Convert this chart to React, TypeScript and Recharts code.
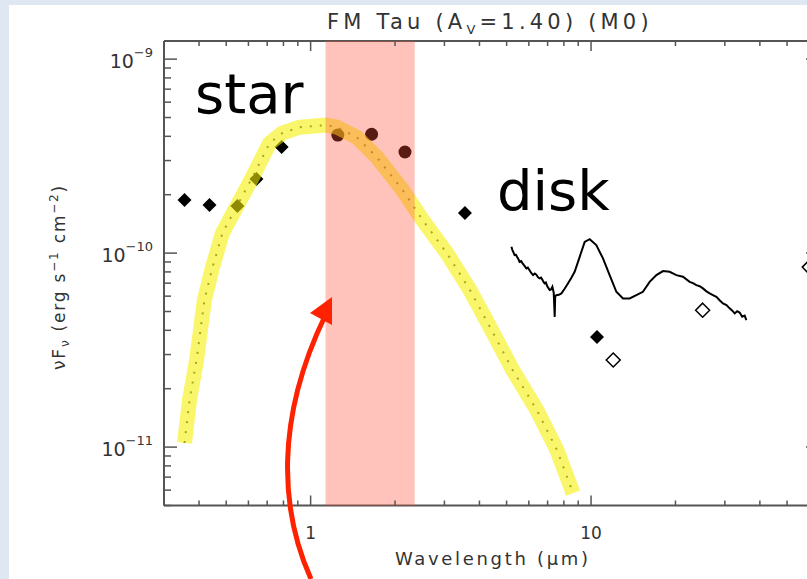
import React from "react";
import {
  ComposedChart,
  Line,
  Scatter,
  XAxis,
  YAxis,
  ReferenceArea,
} from "recharts";

// photosphere model (wavelength in micron, nuFnu in erg/s/cm^2)
const MODEL_WL = [0.355, 0.37, 0.392, 0.418, 0.447, 0.485, 0.544, 0.621, 0.714, 0.794, 0.914, 1.14, 1.24, 1.46, 1.72, 2.13, 2.51, 3.06, 3.7, 4.36, 5.26, 6.41, 7.56, 8.63];
const MODEL_FLUX = [1.05e-11, 1.75e-11, 2.81e-11, 5.73e-11, 8.47e-11, 1.27e-10, 1.73e-10, 2.47e-10, 3.69e-10, 4.16e-10, 4.46e-10, 4.57e-10, 4.46e-10, 3.96e-10, 3.13e-10, 2.11e-10, 1.48e-10, 1.0e-10, 6.45e-11, 4.16e-11, 2.49e-11, 1.55e-11, 9.66e-12, 5.79e-12];

// optical + IRAC + ground mid-IR photometry
const PHOT_WL = [0.355, 0.436, 0.548, 0.641, 0.788, 3.55, 10.5];
const PHOT_FLUX = [1.88e-10, 1.77e-10, 1.75e-10, 2.41e-10, 3.52e-10, 1.61e-10, 3.69e-11];

// 2MASS J, H, K
const NIR_WL = [1.25, 1.65, 2.17];
const NIR_FLUX = [4.06e-10, 4.1e-10, 3.32e-10];

// IRAS 12, 25, 60
const IRAS_WL = [12, 25, 60];
const IRAS_FLUX = [2.81e-11, 5.08e-11, 8.47e-11];

// IRS spectrum
const SPEC_WL = [5.2, 5.24, 5.27, 5.31, 5.34, 5.4, 5.45, 5.5, 5.56, 5.63, 5.7, 5.79, 5.88, 5.95, 6.02, 6.12, 6.21, 6.3, 6.38, 6.47, 6.56, 6.63, 6.7, 6.77, 6.83, 6.9, 6.98, 7.05, 7.12, 7.2, 7.28, 7.36, 7.42, 7.45, 7.52, 7.68, 7.84, 8.05, 8.27, 8.5, 8.74, 9.11, 9.49, 9.89, 10.44, 11.03, 11.65, 12.31, 13.0, 13.73, 14.51, 15.31, 16.18, 17.1, 18.05, 19.07, 20.15, 21.27, 22.47, 23.1, 23.74, 24.4, 25.06, 25.8, 26.49, 27.2, 27.99, 28.8, 29.54, 30.4, 31.21, 31.9, 32.52, 33.2, 33.88, 34.6, 35.3, 35.8];
const SPEC_FLUX = [1.078e-10, 1.04e-10, 1.02e-10, 9.95e-11, 9.77e-11, 9.8e-11, 9.55e-11, 9.35e-11, 9.02e-11, 9.1e-11, 8.85e-11, 8.6e-11, 8.34e-11, 8.42e-11, 8.2e-11, 7.9e-11, 7.7e-11, 7.85e-11, 7.75e-11, 7.5e-11, 7.41e-11, 7.48e-11, 7.3e-11, 7.1e-11, 6.98e-11, 7.05e-11, 6.75e-11, 6.6e-11, 6.45e-11, 6.5e-11, 6.71e-11, 6.25e-11, 4.69e-11, 6.0e-11, 6.07e-11, 6.1e-11, 6.2e-11, 6.55e-11, 6.98e-11, 7.45e-11, 8.01e-11, 9.57e-11, 1.143e-10, 1.18e-10, 1.1e-10, 9.39e-11, 7.7e-11, 6.32e-11, 5.84e-11, 5.84e-11, 6.07e-11, 6.32e-11, 7.11e-11, 7.7e-11, 8.08e-11, 8.01e-11, 7.7e-11, 7.55e-11, 7.11e-11, 7.0e-11, 6.84e-11, 6.75e-11, 6.58e-11, 6.35e-11, 6.2e-11, 6.08e-11, 5.95e-11, 5.7e-11, 5.5e-11, 5.4e-11, 5.19e-11, 5.05e-11, 4.89e-11, 5.02e-11, 4.94e-11, 4.7e-11, 4.76e-11, 4.51e-11];

// shaded J-K window
const BAND = [1.13, 2.35];

const X_DOMAIN = [0.3, 65];
const Y_DOMAIN = [5e-12, 1.24e-9];
const X_TICKS = [0.3, 0.4, 0.5, 0.6, 0.7, 0.8, 0.9, 1, 2, 3, 4, 5, 6, 7, 8, 9, 10, 20, 30, 40, 50, 60];
const Y_TICKS = [
  5e-12, 6e-12, 7e-12, 8e-12, 9e-12,
  1e-11, 2e-11, 3e-11, 4e-11, 5e-11, 6e-11, 7e-11, 8e-11, 9e-11,
  1e-10, 2e-10, 3e-10, 4e-10, 5e-10, 6e-10, 7e-10, 8e-10, 9e-10,
  1e-9,
];

const zip = (xs: number[], ys: number[]) => xs.map((x, i) => ({ x, y: ys[i] }));

const AXIS = "#555";
const TEXT = "#333";
const FONT = "DejaVu Sans, Verdana, sans-serif";

const isDecade = (v: number) => Math.abs(Math.log10(v) - Math.round(Math.log10(v))) < 1e-6;

function XTick(props: any) {
  const { x, y, payload, side } = props;
  const v = payload.value;
  const major = isDecade(v);
  const len = major ? 10 : 5;
  const dir = side === "top" ? 1 : -1;
  return (
    <g>
      <line x1={x} y1={y} x2={x} y2={y + dir * len} stroke={AXIS} strokeWidth={1.5} />
      {side === "bottom" && major && (
        <text x={x} y={y + 33} textAnchor="middle" fontSize={17} fill={TEXT} fontFamily={FONT}>
          {v}
        </text>
      )}
    </g>
  );
}

function YTick(props: any) {
  const { x, y, payload, side } = props;
  const v = payload.value;
  const major = isDecade(v);
  const len = major ? 13 : 7;
  const dir = side === "left" ? 1 : -1;
  return (
    <g>
      <line x1={x} y1={y} x2={x + dir * len} y2={y} stroke={AXIS} strokeWidth={1.5} />
      {side === "left" && major && (
        <text x={x - 11} y={y + 9} textAnchor="end" fontSize={19} fill={TEXT} fontFamily={FONT}>
          10
          <tspan dy={-11} fontSize={13}>
            {"\u2212" + Math.abs(Math.round(Math.log10(v)))}
          </tspan>
        </text>
      )}
    </g>
  );
}

function FilledDiamond(p: any) {
  const { cx, cy } = p;
  return <path d={`M${cx},${cy - 7}L${cx + 7},${cy}L${cx},${cy + 7}L${cx - 7},${cy}Z`} fill="#000" />;
}

function OpenDiamond(p: any) {
  const { cx, cy } = p;
  return (
    <path
      d={`M${cx},${cy - 7}L${cx + 7},${cy}L${cx},${cy + 7}L${cx - 7},${cy}Z`}
      fill="#fff"
      stroke="#000"
      strokeWidth={1.5}
    />
  );
}

function Dot(p: any) {
  return <circle cx={p.cx} cy={p.cy} r={6.5} fill="#000" />;
}

export default function App() {
  const model = zip(MODEL_WL, MODEL_FLUX);
  const spec = zip(SPEC_WL, SPEC_FLUX);

  return (
    <div style={{ position: "relative", width: 807, height: 579, overflow: "hidden", background: "#dfe7f2" }}>
      <style>{"body{margin:0}"}</style>
      <div style={{ position: "absolute", left: 9, top: 5, right: 0, bottom: 0, background: "#fff" }} />
      <div style={{ position: "absolute", left: 0, top: 0 }}>
        <ComposedChart width={830} height={579} margin={{ top: 31, right: 1, bottom: 43.5, left: 104 }}>
          <XAxis
            dataKey="x"
            type="number"
            scale="log"
            domain={X_DOMAIN}
            allowDataOverflow
            ticks={X_TICKS}
            interval={0}
            height={30}
            tickSize={0}
            tickMargin={0}
            tickLine={false}
            axisLine={{ stroke: AXIS, strokeWidth: 2 }}
            tick={(p: any) => <XTick {...p} side="bottom" />}
          />
          <XAxis
            xAxisId="top"
            orientation="top"
            dataKey="x"
            type="number"
            scale="log"
            domain={X_DOMAIN}
            allowDataOverflow
            ticks={X_TICKS}
            interval={0}
            height={10}
            tickSize={0}
            tickMargin={0}
            tickLine={false}
            axisLine={{ stroke: AXIS, strokeWidth: 2 }}
            tick={(p: any) => <XTick {...p} side="top" />}
          />
          <YAxis
            dataKey="y"
            type="number"
            scale="log"
            domain={Y_DOMAIN}
            allowDataOverflow
            ticks={Y_TICKS}
            interval={0}
            width={60}
            tickSize={0}
            tickMargin={0}
            tickLine={false}
            axisLine={{ stroke: AXIS, strokeWidth: 2 }}
            tick={(p: any) => <YTick {...p} side="left" />}
          />
          <YAxis
            yAxisId="right"
            orientation="right"
            dataKey="y"
            type="number"
            scale="log"
            domain={Y_DOMAIN}
            allowDataOverflow
            ticks={Y_TICKS}
            interval={0}
            width={10}
            tickSize={0}
            tickMargin={0}
            tickLine={false}
            axisLine={{ stroke: AXIS, strokeWidth: 2 }}
            tick={(p: any) => <YTick {...p} side="right" />}
          />

          {/* dotted photosphere */}
          <Line
            data={model}
            dataKey="y"
            type="linear"
            stroke="#444"
            strokeWidth={2}
            strokeDasharray="2 8"
            dot={false}
            activeDot={false}
            isAnimationActive={false}
            zIndex={400}
          />
          <Line
            data={spec}
            dataKey="y"
            type="linear"
            stroke="#000"
            strokeWidth={2}
            dot={false}
            activeDot={false}
            isAnimationActive={false}
            zIndex={410}
          />
          <Scatter data={zip(PHOT_WL, PHOT_FLUX)} dataKey="y" shape={FilledDiamond} isAnimationActive={false} zIndex={600} />
          <Scatter data={zip(NIR_WL, NIR_FLUX)} dataKey="y" shape={Dot} isAnimationActive={false} zIndex={600} />
          <Scatter data={zip(IRAS_WL, IRAS_FLUX)} dataKey="y" shape={OpenDiamond} isAnimationActive={false} zIndex={600} />
          {/* highlighter over the stellar photosphere */}
          <Line
            data={model}
            dataKey="y"
            type="linear"
            stroke="#f5f000"
            strokeOpacity={0.58}
            strokeWidth={15}
            strokeLinecap="butt"
            strokeLinejoin="round"
            dot={false}
            activeDot={false}
            isAnimationActive={false}
            zIndex={650}
          />
          <ReferenceArea x1={BAND[0]} x2={BAND[1]} fill="#ff5038" fillOpacity={0.34} stroke="none" zIndex={700} />
        </ComposedChart>
      </div>

      <svg width={807} height={579} style={{ position: "absolute", left: 0, top: 0, pointerEvents: "none" }}>
        <text x={327} y={29} fontSize={21} fill={TEXT} fontFamily={FONT} letterSpacing={4.2}>
          FM Tau (A<tspan dy={5} fontSize={13}>V</tspan>
          <tspan dy={-5}>=1.40) (M0)</tspan>
        </text>
        <text x={395} y={565} fontSize={18} fill={TEXT} fontFamily={FONT} textLength={193} lengthAdjust="spacing">
          Wavelength (μm)
        </text>
        <text
          x={65}
          y={277}
          transform="rotate(-90 65 277)"
          fontSize={17}
          fill={TEXT}
          fontFamily={FONT}
          textAnchor="middle"
          letterSpacing={1.8}
        >
          νF<tspan dy={4} fontSize={12}>ν</tspan>
          <tspan dy={-4}> (erg s</tspan>
          <tspan dy={-7} fontSize={12}>−1</tspan>
          <tspan dy={7}> cm</tspan>
          <tspan dy={-7} fontSize={12}>−2</tspan>
          <tspan dy={7}>)</tspan>
        </text>
        <text x={195} y={113} fontSize={56} fill="#000" fontFamily={FONT}>
          star
        </text>
        <text x={497} y={210} fontSize={56} fill="#000" fontFamily={FONT}>
          disk
        </text>
        <path d="M311,579 C280,510 275,420 325,316" fill="none" stroke="#ff2200" strokeWidth={5} />
        <polygon points="310,313 332,297 332,325" fill="#ff2200" />
      </svg>
    </div>
  );
}
